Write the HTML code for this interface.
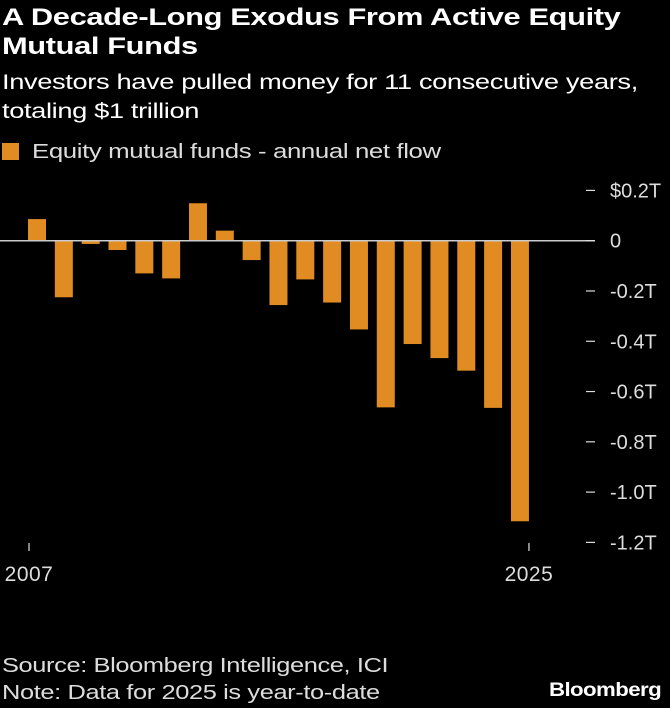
<!DOCTYPE html>
<html><head><meta charset="utf-8"><style>
body{margin:0;background:#000;width:670px;height:708px;overflow:hidden;font-family:"Liberation Sans",sans-serif;color:#fff;position:relative}
.t{position:absolute;left:2px;white-space:nowrap;transform-origin:0 0}
</style></head><body>
<div class="t" style="top:3px;font-size:24px;font-weight:bold;line-height:29px;letter-spacing:-0.3px;transform:scaleX(1.285)">A Decade-Long Exodus From Active Equity<br>Mutual Funds</div>
<div class="t" style="top:68px;font-size:21px;line-height:29px;letter-spacing:-0.3px;transform:scaleX(1.3)">Investors have pulled money for 11 consecutive years,<br>totaling $1 trillion</div>
<div class="t" style="top:141px;font-size:20px;letter-spacing:-0.3px;color:#ddd"><span style="display:inline-block;width:17px;height:17px;background:#e08c22;vertical-align:-2px;margin-right:13px"></span><span style="display:inline-block;transform:scaleX(1.29);transform-origin:0 0">Equity mutual funds - annual net flow</span></div>
<svg id="c" width="670" height="708" style="position:absolute;left:0;top:0"></svg>
<div class="t" style="top:653px;font-size:20px;line-height:27px;color:#ddd;letter-spacing:-0.3px;transform:scaleX(1.27)">Source: Bloomberg Intelligence, ICI<br>Note: Data for 2025 is year-to-date</div>
<div class="t" style="top:680px;left:549px;font-size:19px;font-weight:bold;letter-spacing:-0.5px;transform:scaleX(1.17)">Bloomberg</div>
<script>
const years=[2007,2008,2009,2010,2011,2012,2013,2014,2015,2016,2017,2018,2019,2020,2021,2022,2023,2024,2025];
const flows=[0.086,-0.225,-0.013,-0.037,-0.13,-0.15,0.149,0.04,-0.077,-0.256,-0.154,-0.246,-0.353,-0.663,-0.411,-0.467,-0.517,-0.665,-1.116];
const yTicks=[0.2,0,-0.2,-0.4,-0.6,-0.8,-1.0,-1.2];
const yTickLabels=["$0.2T","0","-0.2T","-0.4T","-0.6T","-0.8T","-1.0T","-1.2T"];
const xLabels=[2007,2025];
const svg=document.getElementById('c');const NS='http://www.w3.org/2000/svg';
const y=v=>240.7-v*251.4;
const x=yr=>37+(yr-2007)*26.83;
function mk(t,a){const e=document.createElementNS(NS,t);for(const k in a)e.setAttribute(k,a[k]);svg.appendChild(e);return e;}
years.forEach((yr,i)=>{const v=flows[i];const r=mk('rect',{x:x(yr)-9,y:Math.min(y(v),y(0)),width:18,height:Math.abs(y(v)-y(0)),fill:'#e08c22'});

});
const zl=mk('line',{x1:0,x2:595,y1:y(0),y2:y(0),stroke:'#ccc','stroke-width':1.5});


yTicks.forEach((v,i)=>{const d=mk('line',{x1:586,x2:595,y1:y(v),y2:y(v),stroke:'#ddd','stroke-width':1.2});


const t=mk('text',{x:610,y:y(v)+7,fill:'#ddd','font-size':20,'font-family':'Liberation Sans','letter-spacing':'0'});t.textContent=yTickLabels[i];

});
xLabels.forEach(yr=>{const px=yr===2025?x(yr)+9:x(yr)-8;const d=mk('line',{x1:px,x2:px,y1:543,y2:551,stroke:'#ddd','stroke-width':1.2});


const t=mk('text',{x:px,y:581,fill:'#ddd','font-size':21,'font-family':'Liberation Sans','text-anchor':'middle','letter-spacing':'0.5'});t.textContent=yr;

});
</script>
</body></html>
